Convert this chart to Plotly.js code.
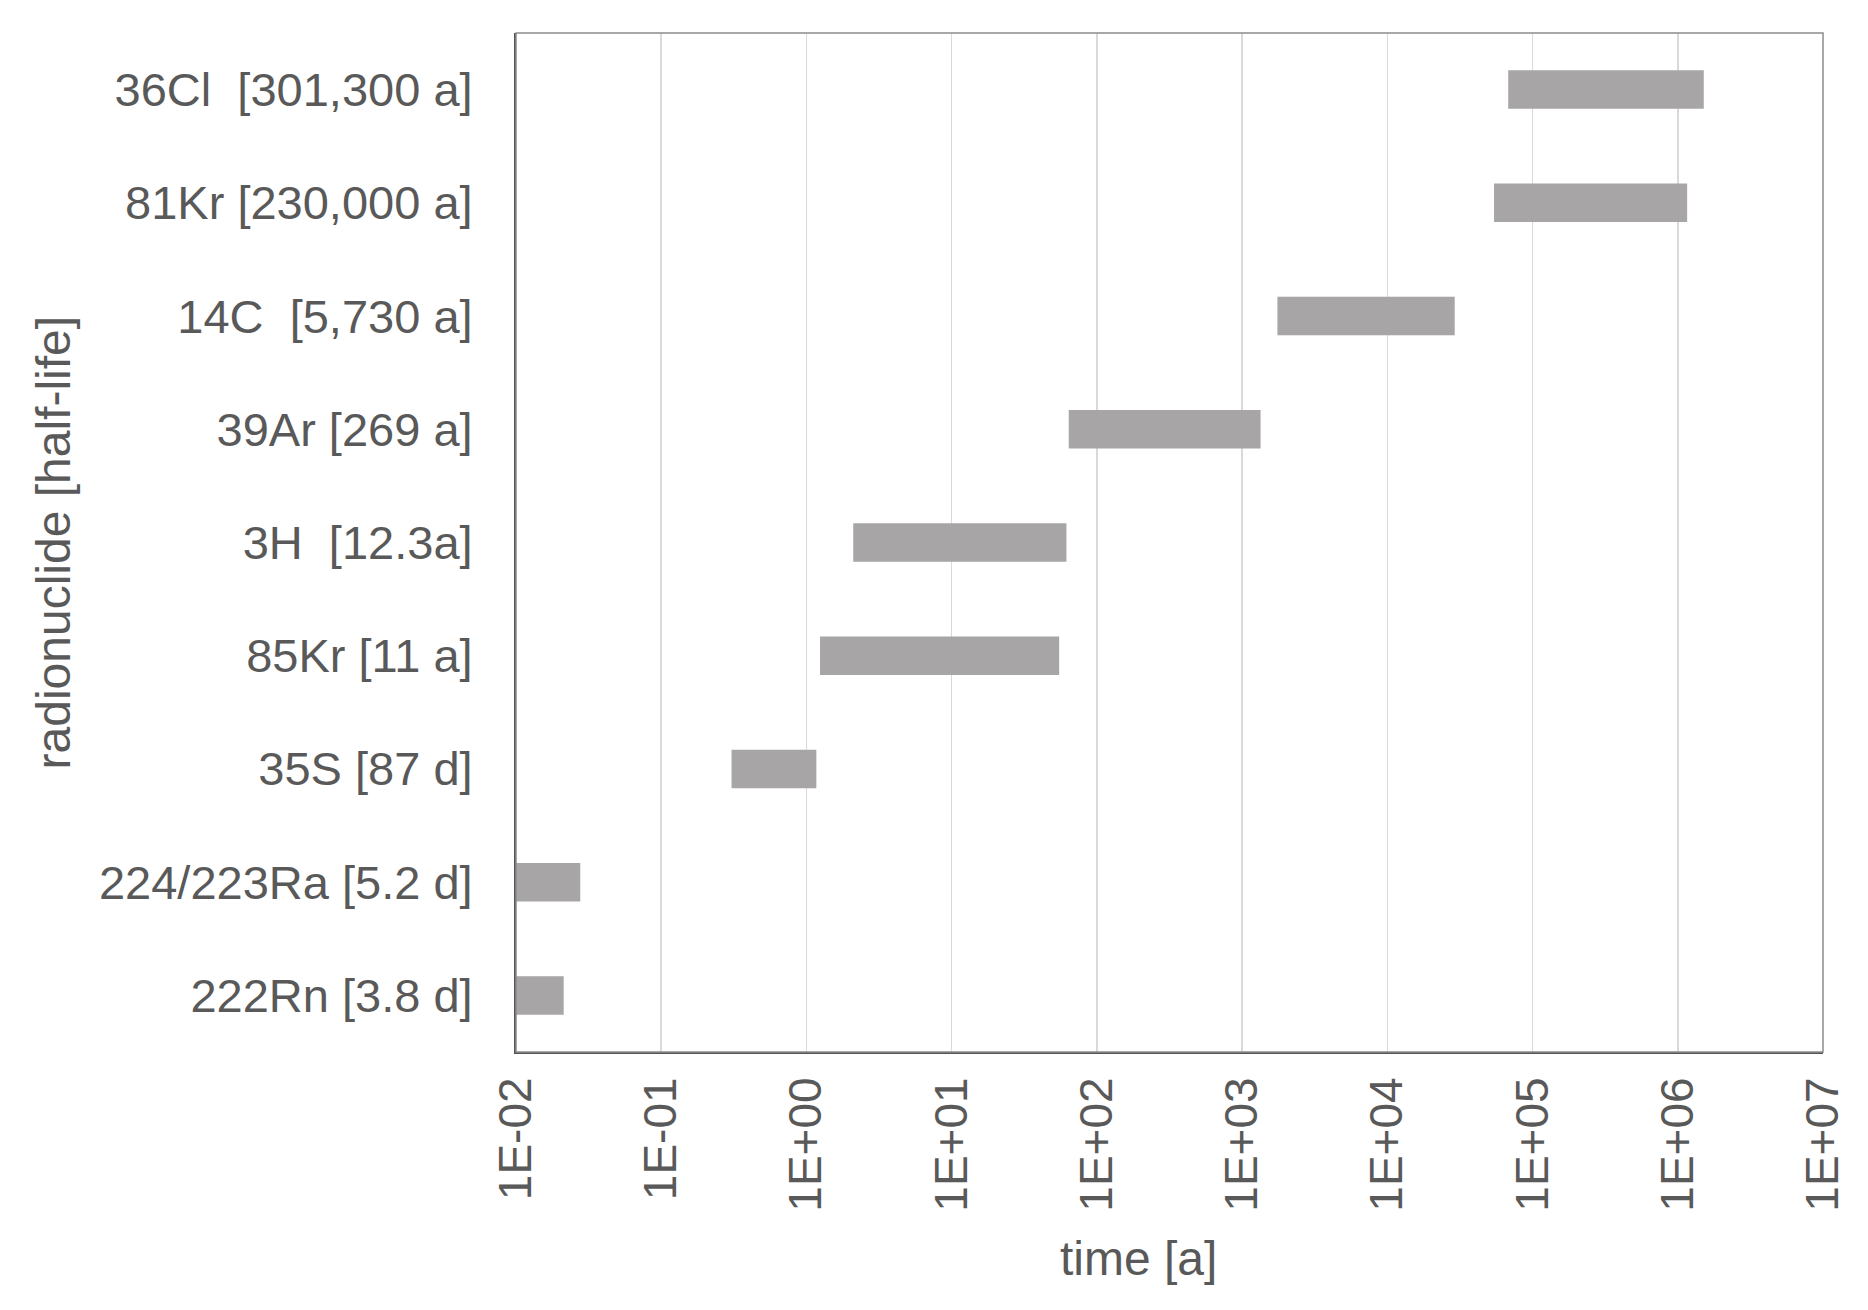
<!DOCTYPE html>
<html>
<head>
<meta charset="utf-8">
<script src="https://cdn.plot.ly/plotly-3.0.1.min.js"></script>
<style>
    html, body { margin: 0; padding: 0; background: #fff; }
    #chart { width: 1868px; height: 1310px; }
</style>
</head>
<body>
<div id="chart"></div>
<script>
// radionuclides, bottom to top
var nuclides = [
    "222Rn [3.8 d]",
    "224/223Ra [5.2 d]",
    "35S [87 d]",
    "85Kr [11 a]",
    "3H  [12.3a]",
    "39Ar [269 a]",
    "14C  [5,730 a]",
    "81Kr [230,000 a]",
    "36Cl  [301,300 a]"
];

// dating range in years
var rangeStart = [0.01, 0.01, 0.305, 1.24, 2.1, 64, 1750, 54300, 68000];
var rangeEnd = [0.0213, 0.0277, 1.17, 55, 61.7, 1340, 29100, 1160000, 1510000];

var tickVals = [1e-2, 1e-1, 1e0, 1e1, 1e2, 1e3, 1e4, 1e5, 1e6, 1e7];
var tickText = ["1E-02", "1E-01", "1E+00", "1E+01", "1E+02", "1E+03", "1E+04", "1E+05", "1E+06", "1E+07"];

var lengths = [];
for (var i = 0; i < nuclides.length; i++) {
    lengths.push(rangeEnd[i] - rangeStart[i]);
}

var textColor = "#595959";
var fontFamily = "Liberation Sans, Arial, sans-serif";

var data = [{
    type: "bar",
    orientation: "h",
    y: nuclides,
    x: lengths,
    base: rangeStart,
    width: 0.34,
    marker: { color: "#a8a5a6", line: { width: 0 } },
    hoverinfo: "y"
}];

var layout = {
    width: 1868,
    height: 1310,
    margin: { l: 516, r: 45, t: 33, b: 258 },
    paper_bgcolor: "#ffffff",
    plot_bgcolor: "#ffffff",
    showlegend: false,
    font: { family: fontFamily, color: textColor, size: 46 },
    xaxis: {
        type: "log",
        range: [-2, 7],
        tickmode: "array",
        tickvals: tickVals,
        ticktext: tickText,
        tickangle: -90,
        tickfont: { size: 46, color: textColor },
        ticks: "",
        ticklabelstandoff: 5,
        showgrid: true,
        gridcolor: "#d9d9d9",
        gridwidth: 1.5,
        showline: true,
        linecolor: "#555555",
        linewidth: 2,
        zeroline: false
    },
    yaxis: {
        type: "category",
        range: [-0.5, 8.5],
        tickfont: { size: 47, color: textColor },
        ticks: "",
        ticklabelstandoff: 32,
        showgrid: false,
        showline: true,
        linecolor: "#555555",
        linewidth: 2,
        zeroline: false
    },
    annotations: [
        {
            text: "time [a]",
            xref: "paper", yref: "paper",
            x: 0.476, y: -0.203,
            xanchor: "center", yanchor: "middle",
            showarrow: false,
            font: { size: 48, color: textColor }
        },
        {
            text: "radionuclide [half-life]",
            xref: "paper", yref: "paper",
            x: -0.3535, y: 0.5,
            xanchor: "center", yanchor: "middle",
            textangle: -90,
            showarrow: false,
            font: { size: 48, color: textColor }
        }
    ],
    shapes: [{
        type: "rect",
        xref: "paper", yref: "paper",
        x0: 0, x1: 1, y0: 0, y1: 1,
        line: { color: "#8c8c8c", width: 1.5 },
        layer: "above"
    }]
};

var config = { responsive: false, displayModeBar: false, staticPlot: true };

Plotly.newPlot("chart", data, layout, config);
</script>
</body>
</html>
